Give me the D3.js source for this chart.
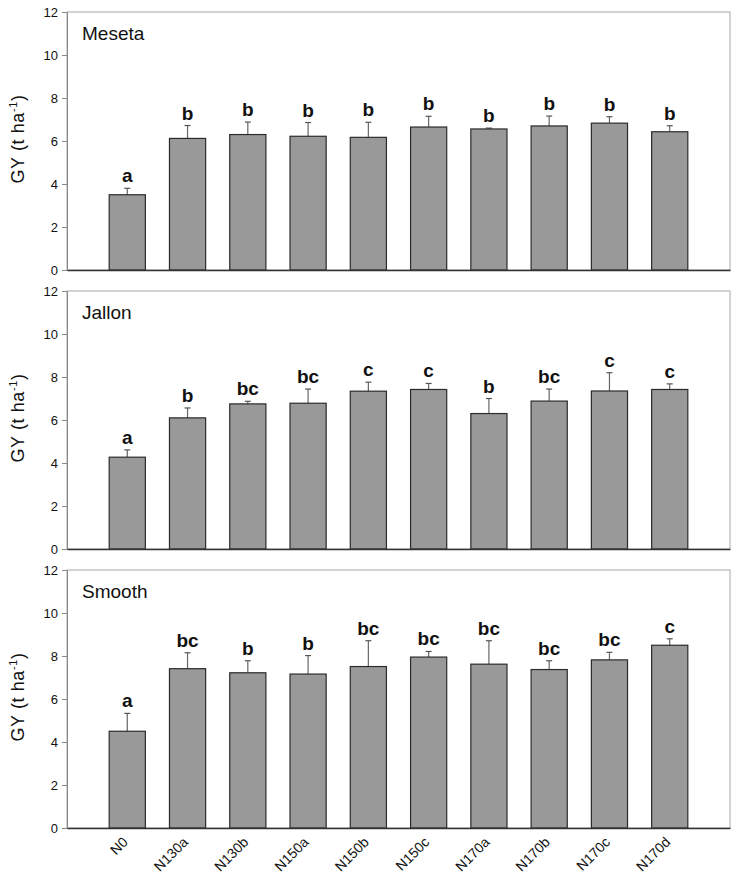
<!DOCTYPE html>
<html>
<head>
<meta charset="utf-8">
<script src="https://cdn.jsdelivr.net/npm/d3@7"></script>
<style>
  body { margin: 0; background: #fff; }
  svg { display: block; font-family: "Liberation Sans", Arial, sans-serif; }
</style>
</head>
<body>
<svg id="main"></svg>
<script>
const width = 737;
const height = 876;

const categories = ['N0', 'N130a', 'N130b', 'N150a', 'N150b', 'N150c', 'N170a', 'N170b', 'N170c', 'N170d'];
const yTicks = [0, 2, 4, 6, 8, 10, 12];
const panelNames = ['Meseta', 'Jallon', 'Smooth'];

// mean GY (t/ha) and upper error per cultivar
const mesetaMean = [3.50, 6.12, 6.30, 6.22, 6.17, 6.65, 6.56, 6.70, 6.83, 6.43];
const mesetaErr = [0.30, 0.60, 0.58, 0.64, 0.70, 0.50, 0.04, 0.46, 0.30, 0.28];
const mesetaLetters = ['a', 'b', 'b', 'b', 'b', 'b', 'b', 'b', 'b', 'b'];

const jallonMean = [4.27, 6.10, 6.75, 6.78, 7.34, 7.42, 6.30, 6.88, 7.35, 7.42];
const jallonErr = [0.34, 0.46, 0.12, 0.66, 0.42, 0.28, 0.70, 0.56, 0.85, 0.26];
const jallonLetters = ['a', 'b', 'bc', 'bc', 'c', 'c', 'b', 'bc', 'c', 'c'];

const smoothMean = [4.50, 7.41, 7.22, 7.16, 7.51, 7.95, 7.62, 7.37, 7.82, 8.50];
const smoothErr = [0.83, 0.74, 0.56, 0.86, 1.20, 0.26, 1.09, 0.41, 0.35, 0.30];
const smoothLetters = ['a', 'bc', 'b', 'b', 'bc', 'bc', 'bc', 'bc', 'bc', 'c'];

const panels = [
    { name: panelNames[0], mean: mesetaMean, err: mesetaErr, letters: mesetaLetters },
    { name: panelNames[1], mean: jallonMean, err: jallonErr, letters: jallonLetters },
    { name: panelNames[2], mean: smoothMean, err: smoothErr, letters: smoothLetters }
];

const position = { left: 67, right: 7 };
const panelTops = [12, 291, 570];
const panelHeight = 258;
const innerWidth = width - position.left - position.right;

const mainSvg = d3.select('#main').attr('width', width).attr('height', height);

// bars sit on slots 1..10 of an 11-slot axis
const xScale = d3.scalePoint()
    .domain(categories)
    .range([0, innerWidth])
    .padding(1);
const barWidth = xScale.step() * 0.6;

const yScale = d3.scaleLinear().domain([0, 12]).range([panelHeight, 0]);

panels.forEach((p, i) => {
    const rows = categories.map((c, j) => ({ cat: c, mean: p.mean[j], err: p.err[j], letter: p.letters[j] }));
    const g = mainSvg.append('g')
        .attr('transform', `translate(${position.left}, ${panelTops[i]})`);

    // frame
    g.append('rect')
        .attr('width', innerWidth)
        .attr('height', panelHeight)
        .attr('fill', 'none')
        .attr('stroke', '#a8a8a8')
        .attr('stroke-width', 1);

    // y axis
    const yAxis = d3.axisLeft(yScale).tickValues(yTicks).tickSize(5).tickPadding(4);
    const ya = g.append('g').call(yAxis);
    ya.select('.domain').attr('stroke', '#888');
    ya.selectAll('.tick line').attr('stroke', '#888');
    ya.selectAll('.tick text').attr('font-size', 13).attr('fill', '#111');

    // error bars (upper only)
    const cap = 3;
    const eb = g.selectAll('.err').data(rows).join('g').attr('class', 'err');
    eb.append('line')
        .attr('x1', d => xScale(d.cat)).attr('x2', d => xScale(d.cat))
        .attr('y1', d => yScale(d.mean)).attr('y2', d => yScale(d.mean + d.err))
        .attr('stroke', '#666').attr('stroke-width', 1.2);
    eb.append('line')
        .attr('x1', d => xScale(d.cat) - cap).attr('x2', d => xScale(d.cat) + cap)
        .attr('y1', d => yScale(d.mean + d.err)).attr('y2', d => yScale(d.mean + d.err))
        .attr('stroke', '#555').attr('stroke-width', 1.2);

    // bars
    g.selectAll('.bar')
        .data(rows)
        .join('rect')
        .attr('class', 'bar')
        .attr('x', d => xScale(d.cat) - barWidth / 2)
        .attr('y', d => yScale(d.mean))
        .attr('width', barWidth)
        .attr('height', d => panelHeight - yScale(d.mean))
        .attr('fill', '#999999')
        .attr('stroke', '#2b2b2b')
        .attr('stroke-width', 1.2);

    // bottom axis line, category labels only under the last panel
    const xAxis = d3.axisBottom(xScale).tickSize(0);
    const xa = g.append('g').attr('transform', `translate(0,${panelHeight})`).call(xAxis);
    xa.select('.domain').attr('stroke', '#333').attr('stroke-width', 1.3);
    if (i === 2) {
        xa.selectAll('.tick text')
            .attr('font-size', 14)
            .attr('fill', '#111')
            .attr('text-anchor', 'end')
            .attr('y', 0)
            .attr('dy', 0)
            .attr('transform', 'translate(1,15) rotate(-45)');
    } else {
        xa.selectAll('.tick text').remove();
    }

    // significance letters
    g.selectAll('.letter')
        .data(rows)
        .join('text')
        .attr('class', 'letter')
        .attr('x', d => xScale(d.cat))
        .attr('y', d => yScale(d.mean + d.err) - 6)
        .attr('text-anchor', 'middle')
        .attr('font-size', 19)
        .attr('font-weight', 'bold')
        .attr('fill', '#111')
        .text(d => d.letter);

    // panel name
    g.append('text')
        .attr('x', 15)
        .attr('y', 28)
        .attr('font-size', 19)
        .attr('fill', '#111')
        .text(p.name);

    // y label
    const yl = mainSvg.append('text')
        .attr('transform', `translate(24, ${panelTops[i] + panelHeight / 2 - 2}) rotate(-90)`)
        .attr('text-anchor', 'middle')
        .attr('font-size', 18)
        .attr('letter-spacing', 0.6)
        .attr('fill', '#111');
    yl.append('tspan').text('GY (t ha');
    yl.append('tspan').attr('font-size', 11).attr('dy', -7).text('-1');
    yl.append('tspan').attr('dy', 7).text(')');
});
</script>
</body>
</html>
